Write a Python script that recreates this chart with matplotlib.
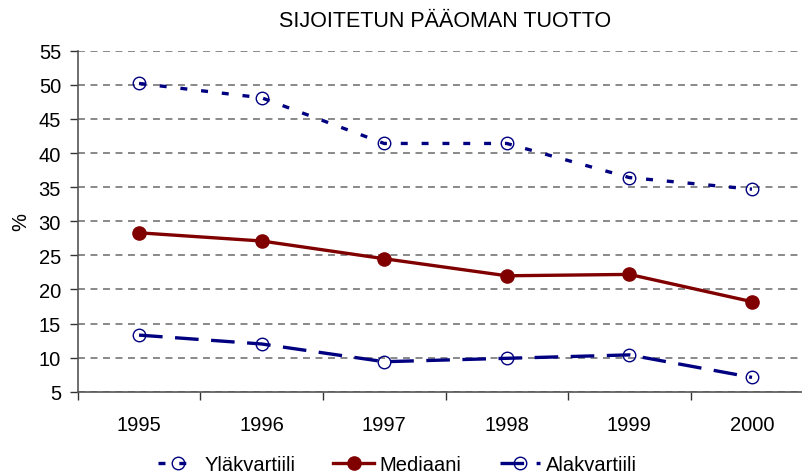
import numpy as np
import matplotlib
matplotlib.use('Agg')
import matplotlib.pyplot as plt

plt.rcParams['font.family'] = ['Liberation Sans', 'DejaVu Sans']
plt.rcParams['lines.scale_dashes'] = False

years = ['1995', '1996', '1997', '1998', '1999', '2000']
ylakvartiili = [50.2, 48.1, 41.4, 41.4, 36.4, 34.7]
mediaani = [28.3, 27.1, 24.5, 22.0, 22.2, 18.2]
alakvartiili = [13.3, 12.0, 9.4, 9.9, 10.4, 7.1]

navy = '#000080'
maroon = '#800000'
fs = 14.5

fig = plt.figure(figsize=(8.03, 4.77), dpi=100)
ax = fig.add_axes([0.0968, 0.1767, 0.916, 0.7149])
x = np.arange(len(years))

ax.plot(x, ylakvartiili, color=navy, linewidth=2.4, dashes=(5, 10),
        marker='o', markersize=9, markerfacecolor='none',
        markeredgecolor=navy, markeredgewidth=1.0, label='Yläkvartiili')
ax.plot(x, mediaani, color=maroon, linewidth=2.4,
        marker='o', markersize=9.5, markerfacecolor=maroon,
        markeredgecolor=maroon, label='Mediaani')
ax.plot(x, alakvartiili, color=navy, linewidth=2.4, dashes=(17, 9),
        marker='o', markersize=9, markerfacecolor='none',
        markeredgecolor=navy, markeredgewidth=1.0, label='Alakvartiili')

ax.set_ylim(5, 55)
ax.set_yticks(np.arange(5, 56, 5))
ax.set_xlim(-0.5, 5.5)
ax.set_xticks(x)
ax.set_xticklabels(years)
ax.set_xticks(np.arange(-0.5, 6, 1), minor=True)
ax.tick_params(axis='x', which='major', length=0, pad=17, labelsize=fs)
ax.tick_params(axis='x', which='minor', length=6, width=1, color='#333333')
ax.tick_params(axis='y', length=6, width=1, color='#333333', labelsize=fs, pad=6)

ax.yaxis.grid(True, color='#6a6a6a', linestyle=(0, (5, 4)), linewidth=1.1)
ax.set_axisbelow(True)
for s in ['top', 'right']:
    ax.spines[s].set_visible(False)
for s in ['left', 'bottom']:
    ax.spines[s].set_color('#555555')
    ax.spines[s].set_linewidth(1.2)

ax.set_ylabel('%', fontsize=fs, labelpad=6)
fig.text(0.554, 0.955, 'SIJOITETUN PÄÄOMAN TUOTTO', ha='center', va='center', fontsize=15.5)

fig.legend(loc='center', bbox_to_anchor=(0.495, 0.025), ncol=3, frameon=False,
           fontsize=fs, handlelength=2.0, columnspacing=1.9, handletextpad=0.3)

fig.savefig('out.png', dpi=100)
